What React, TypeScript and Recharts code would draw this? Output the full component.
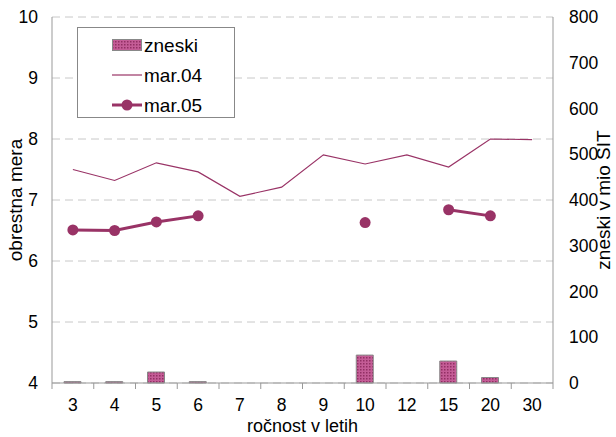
import React from 'react';
import { ComposedChart, Bar, Line, XAxis, YAxis, CartesianGrid } from 'recharts';

const categories = ['3', '4', '5', '6', '7', '8', '9', '10', '12', '15', '20', '30'];
const zneski: (number | null)[] = [3, 3, 24, 3, null, null, null, 61, null, 48, 12, null];
const mar04: (number | null)[] = [7.5, 7.32, 7.61, 7.46, 7.06, 7.21, 7.74, 7.59, 7.74, 7.54, 8.0, 7.99];
const mar05: (number | null)[] = [6.51, 6.5, 6.64, 6.74, null, null, null, 6.63, null, 6.84, 6.74, null];
const leftTicks = [4, 5, 6, 7, 8, 9, 10];
const rightTicks = [0, 100, 200, 300, 400, 500, 600, 700, 800];
const seriesNames = ['zneski', 'mar.04', 'mar.05'];

const data = categories.map((c, i) => ({ cat: c, zneski: zneski[i], mar04: mar04[i], mar05: mar05[i] }));

const FONT = '"Liberation Sans", Arial, sans-serif';
const LINE_COLOR = '#993366';
const AXIS_COLOR = '#999999';
const TICK_FS = 17.5;
const LABEL_FS = 19;

const XTick = (props: any) => {
  const { x, y, payload, width, visibleTicksCount, index } = props;
  const half = width / visibleTicksCount / 2;
  return (
    <g>
      <line x1={x - half} y1={y} x2={x - half} y2={y + 6} stroke={AXIS_COLOR} strokeWidth={1} />
      {index === visibleTicksCount - 1 && (
        <line x1={x + half} y1={y} x2={x + half} y2={y + 6} stroke={AXIS_COLOR} strokeWidth={1} />
      )}
      <text x={x} y={y + 28} textAnchor="middle" fontSize={TICK_FS} fontFamily={FONT} fill="#000">
        {payload.value}
      </text>
    </g>
  );
};

const LeftLabel = (props: any) => {
  const { viewBox } = props;
  const cx = viewBox.x + 15;
  const cy = viewBox.y + viewBox.height / 2;
  return (
    <text x={cx} y={cy} transform={`rotate(-90 ${cx} ${cy})`} textAnchor="middle" dominantBaseline="central" fontSize={LABEL_FS} fontFamily={FONT} fill="#000">
      obrestna mera
    </text>
  );
};

const RightLabel = (props: any) => {
  const { viewBox } = props;
  const cx = viewBox.x + 50;
  const cy = viewBox.y + viewBox.height / 2;
  return (
    <text x={cx} y={cy} transform={`rotate(-90 ${cx} ${cy})`} textAnchor="middle" dominantBaseline="central" fontSize={LABEL_FS} fontFamily={FONT} fill="#000">
      zneski v mio SIT
    </text>
  );
};

const LegendBox = () => {
  const row: React.CSSProperties = { display: 'flex', alignItems: 'center', height: 30 };
  const txt: React.CSSProperties = { fontSize: LABEL_FS, fontFamily: FONT, color: '#000', marginLeft: 2, lineHeight: '19px' };
  return (
    <div style={{ position: 'absolute', left: 77, top: 27, width: 158, height: 91, border: '1px solid #888', background: '#fff', boxSizing: 'border-box', paddingTop: 2, paddingLeft: 34 }}>
      <div style={row}>
        <svg width={30} height={14}>
          <defs>
            <pattern id="dotsL" width="3" height="3" patternUnits="userSpaceOnUse">
              <rect width="3" height="3" fill="#c45c96" />
              <rect x="0" y="0" width="1.5" height="1.5" fill="#922f64" />
            </pattern>
          </defs>
          <rect x={0.5} y={1.5} width={29} height={11} fill="url(#dotsL)" stroke="#888" />
        </svg>
        <span style={txt}>{seriesNames[0]}</span>
      </div>
      <div style={row}>
        <svg width={30} height={14}>
          <line x1={0} y1={7} x2={30} y2={7} stroke={LINE_COLOR} strokeWidth={1.2} />
        </svg>
        <span style={txt}>{seriesNames[1]}</span>
      </div>
      <div style={row}>
        <svg width={30} height={14}>
          <line x1={0} y1={7} x2={30} y2={7} stroke={LINE_COLOR} strokeWidth={3} />
          <circle cx={15} cy={7} r={5.5} fill={LINE_COLOR} />
        </svg>
        <span style={txt}>{seriesNames[2]}</span>
      </div>
    </div>
  );
};

export default function App() {
  return (
    <div style={{ position: 'absolute', left: 0, top: 0, width: 616, height: 437, background: '#fff' }}>
      <ComposedChart width={616} height={437} data={data} margin={{ top: 17, right: 0, bottom: 0, left: 0 }}>
        <defs>
          <pattern id="dots" width="3" height="3" patternUnits="userSpaceOnUse">
            <rect width="3" height="3" fill="#c45c96" />
            <rect x="0" y="0" width="1.5" height="1.5" fill="#922f64" />
          </pattern>
        </defs>
        <CartesianGrid yAxisId="left" vertical={false} horizontal stroke="#c8c8c8" strokeDasharray="8 5" />
        <XAxis
          dataKey="cat"
          height={54}
          axisLine={{ stroke: AXIS_COLOR }}
          tickLine={false}
          tickSize={0}
          tickMargin={0}
          interval={0}
          tick={<XTick />}
          label={{ value: 'ročnost v letih', position: 'insideBottom', offset: 5, fontSize: 18, fontFamily: FONT, fill: '#000' }}
        />
        <YAxis
          yAxisId="left"
          orientation="left"
          width={52}
          domain={[4, 10]}
          ticks={leftTicks}
          interval={0}
          axisLine={{ stroke: AXIS_COLOR }}
          tickLine={false}
          tickMargin={8}
          tick={{ fontSize: TICK_FS, fontFamily: FONT, fill: '#000' }}
          label={<LeftLabel />}
        />
        <YAxis
          yAxisId="right"
          orientation="right"
          width={63}
          domain={[0, 800]}
          ticks={rightTicks}
          interval={0}
          axisLine={{ stroke: AXIS_COLOR }}
          tickLine={false}
          tickMargin={10}
          tick={{ fontSize: TICK_FS, fontFamily: FONT, fill: '#000' }}
          label={<RightLabel />}
        />
        <Bar yAxisId="right" dataKey="zneski" name={seriesNames[0]} barSize={17} fill="url(#dots)" stroke="#888" strokeWidth={1} isAnimationActive={false} />
        <Line yAxisId="left" dataKey="mar04" name={seriesNames[1]} stroke={LINE_COLOR} strokeWidth={1.2} dot={false} activeDot={false} isAnimationActive={false} />
        <Line yAxisId="left" dataKey="mar05" name={seriesNames[2]} stroke={LINE_COLOR} strokeWidth={3} dot={{ r: 5.5, fill: LINE_COLOR, stroke: LINE_COLOR, strokeWidth: 0 }} activeDot={false} connectNulls={false} isAnimationActive={false} />
      </ComposedChart>
      <LegendBox />
    </div>
  );
}
